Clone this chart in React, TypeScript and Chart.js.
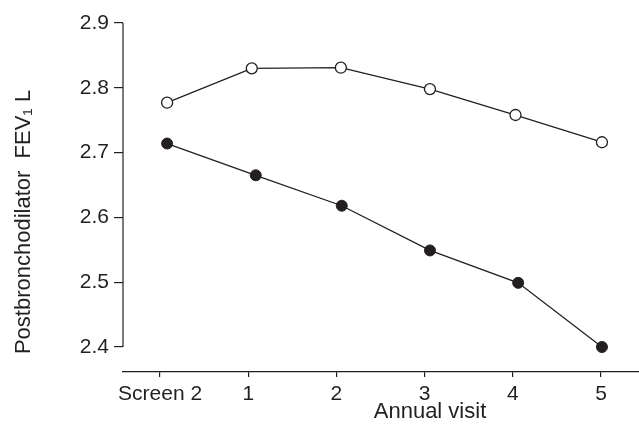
import React, { useEffect, useRef } from "react";
import { Chart, registerables } from "chart.js";

Chart.register(...registerables);

const xTickLabels = ["Screen 2", "1", "2", "3", "4", "5"];
const xTickValues = [0, 1, 2, 3, 4, 5];
const yTickValues = [2.4, 2.5, 2.6, 2.7, 2.8, 2.9];

const openX = [0.08, 1.04, 2.05, 3.06, 4.03, 5.01];
const openY = [2.777, 2.83, 2.831, 2.798, 2.758, 2.716];
const filledX = [0.08, 1.085, 2.06, 3.06, 4.06, 5.01];
const filledY = [2.714, 2.665, 2.618, 2.549, 2.499, 2.4];

const yTitle = "Postbronchodilator  FEV\u2081 L";
const xTitle = "Annual visit";

const INK = "#231f20";
const FONT = '"Liberation Sans", Arial, sans-serif';

const toPoints = (xs: number[], ys: number[]) => xs.map((x, i) => ({ x, y: ys[i] }));

const customPlugin = {
  id: "customAxes",
  afterDraw(chart: any) {
    const ctx = chart.ctx;
    const y = chart.scales.y;
    const area = chart.chartArea;
    ctx.save();
    ctx.strokeStyle = INK;
    ctx.lineWidth = 1.2;
    ctx.beginPath();
    ctx.moveTo(area.left, y.getPixelForValue(yTickValues[0]));
    ctx.lineTo(area.left, y.getPixelForValue(yTickValues[yTickValues.length - 1]));
    ctx.stroke();

    ctx.fillStyle = INK;
    ctx.font = `22px ${FONT}`;
    ctx.textAlign = "center";
    ctx.textBaseline = "middle";
    ctx.fillText(xTitle, 430, 412);
    ctx.translate(24, 222);
    ctx.rotate(-Math.PI / 2);
    ctx.fillText(yTitle, 0, 0);
    ctx.restore();
  },
};

export default function App() {
  const ref = useRef<HTMLCanvasElement | null>(null);
  useEffect(() => {
    if (!ref.current) return;
    const chart = new Chart(ref.current, {
      type: "line",
      data: {
        datasets: [
          {
            label: "open",
            data: toPoints(openX, openY),
            borderColor: INK,
            borderWidth: 1.3,
            pointRadius: 5.5,
            pointBorderWidth: 1.3,
            pointBackgroundColor: "#ffffff",
            pointBorderColor: INK,
            fill: false,
          },
          {
            label: "filled",
            data: toPoints(filledX, filledY),
            borderColor: INK,
            borderWidth: 1.3,
            pointRadius: 5.5,
            pointBorderWidth: 1,
            pointBackgroundColor: INK,
            pointBorderColor: INK,
            fill: false,
          },
        ],
      },
      options: {
        responsive: false,
        animation: false,
        layout: { autoPadding: false, padding: { top: 23, right: 0, left: 0, bottom: 0 } },
        plugins: { legend: { display: false }, tooltip: { enabled: false }, title: { display: false } },
        scales: {
          x: {
            type: "linear",
            min: -0.42,
            max: 5.43,
            border: { display: true, color: INK, width: 1.2 },
            grid: { drawOnChartArea: false, drawTicks: true, tickLength: 5, tickColor: INK, lineWidth: 1.2 },
            afterBuildTicks: (scale: any) => {
              scale.ticks = xTickValues.map((v) => ({ value: v }));
            },
            afterFit: (scale: any) => {
              scale.height = 61;
              scale.paddingLeft = 0;
              scale.paddingRight = 0;
            },
            ticks: {
              color: INK,
              font: { family: FONT, size: 21 },
              padding: 5,
              maxRotation: 0,
              autoSkip: false,
              callback: (v: any) => xTickLabels[xTickValues.indexOf(Number(v))] ?? "",
            },
          },
          y: {
            type: "linear",
            min: 2.3614,
            max: 2.9,
            border: { display: false },
            grid: { drawOnChartArea: false, drawTicks: true, tickLength: 9, tickColor: INK, lineWidth: 1.2 },
            afterBuildTicks: (scale: any) => {
              scale.ticks = yTickValues.map((v) => ({ value: v }));
            },
            afterFit: (scale: any) => {
              scale.width = 123;
            },
            ticks: {
              color: INK,
              font: { family: FONT, size: 21 },
              padding: 5,
              autoSkip: false,
              callback: (v: any) => Number(v).toFixed(1),
            },
          },
        },
      },
      plugins: [customPlugin],
    });
    return () => chart.destroy();
  }, []);
  return (
    <div style={{ position: "fixed", left: 0, top: 0, width: 639, height: 433, background: "#fff" }}>
      <canvas ref={ref} width={639} height={433} style={{ display: "block" }} />
    </div>
  );
}
